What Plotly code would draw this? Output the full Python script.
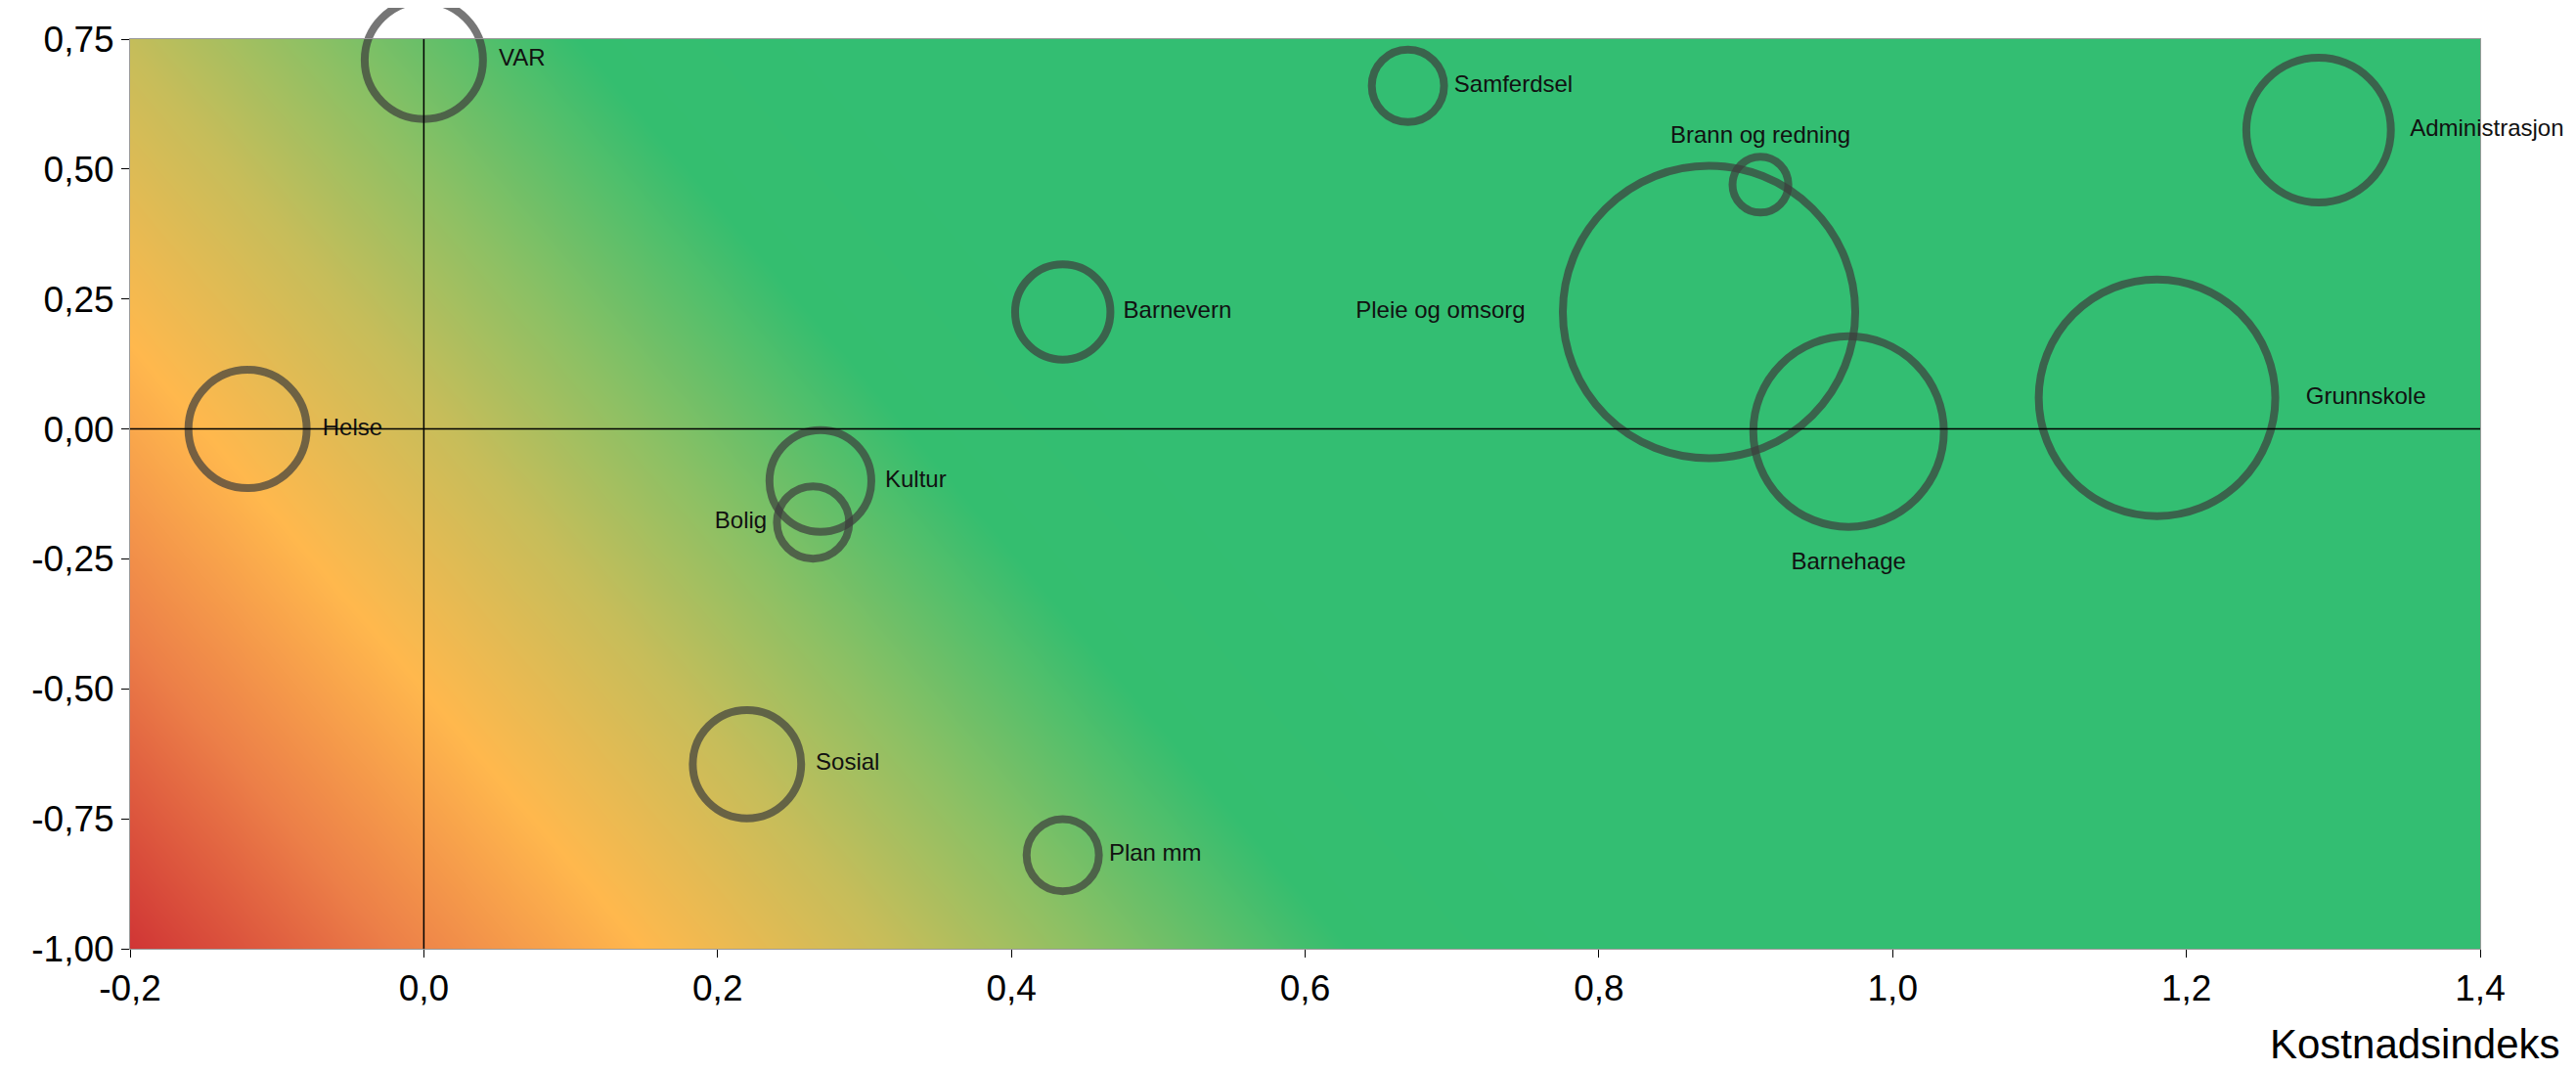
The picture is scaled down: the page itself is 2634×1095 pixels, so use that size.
import numpy as np
import plotly.graph_objects as go

# data
names = ["VAR", "Samferdsel", "Brann og redning", "Administrasjon", "Barnevern",
         "Pleie og omsorg", "Helse", "Grunnskole", "Barnehage", "Kultur",
         "Bolig", "Sosial", "Plan mm"]
kostnad = [0.0, 0.67, 0.91, 1.29, 0.435, 0.875, -0.12, 1.18, 0.97, 0.27, 0.265, 0.22, 0.435]
resultat = [0.71, 0.66, 0.47, 0.575, 0.225, 0.225, 0.0, 0.06, -0.005, -0.1, -0.18, -0.645, -0.82]
diameter = [72, 44, 34, 88, 58, 178, 72, 144, 116, 62, 44, 66, 44]
label_pos = ["middle right", "middle right", "top center", "middle right", "middle right",
             "middle left", "middle right", "middle right", "bottom center", "middle right",
             "middle left", "middle right", "middle right"]
x_ticks = [-0.2, 0.0, 0.2, 0.4, 0.6, 0.8, 1.0, 1.2, 1.4]
y_ticks = [-1.0, -0.75, -0.5, -0.25, 0.0, 0.25, 0.5, 0.75]

scale = 2634 / 1568

# background gradient
gx = np.linspace(-0.2, 1.4, 200)
gy = np.linspace(-1.0, 0.75, 120)
GX, GY = np.meshgrid(gx, gy)
Z = GX + 0.3 * GY
zmin, zmax = -0.5, 0.5
def st(v):
    return (v - zmin) / (zmax - zmin)
colors = [[0.0, "#d03535"], [st(-0.32), "#ec7f48"], [st(-0.15), "#ffb84d"],
          [st(0.02), "#c6bd5a"], [st(0.15), "#8cc064"], [st(0.33), "#34be6f"],
          [1.0, "#33be72"]]

fig = go.Figure()
fig.add_trace(go.Heatmap(x=gx, y=gy, z=Z, colorscale=colors, zmin=zmin, zmax=zmax,
                         zsmooth="best", showscale=False, hoverinfo="skip"))
fig.add_trace(go.Scatter(
    x=kostnad, y=resultat, mode="markers+text", text=names, textposition=label_pos,
    textfont=dict(family="Arial, Liberation Sans", size=24, color="#111"),
    marker=dict(size=[d * scale for d in diameter], sizemode="diameter",
                color="rgba(0,0,0,0)", line=dict(color="#3d3d3d", width=8)),
    cliponaxis=False, showlegend=False))

# axis lines through zero, drawn on top of the gradient
fig.add_shape(type="line", x0=0, x1=0, y0=-1.0, y1=0.75, line=dict(color="black", width=1.5))
fig.add_shape(type="line", x0=-0.2, x1=1.4, y0=0, y1=0, line=dict(color="black", width=1.5))

axis_common = dict(showgrid=False, zeroline=False,
                   ticks="outside", tickcolor="black", ticklen=8,
                   tickfont=dict(family="Arial, Liberation Sans", size=37, color="black"),
                   showline=True, linecolor="#999", mirror=True)
fig.update_xaxes(range=[-0.2, 1.4], tickvals=x_ticks,
                 ticktext=[f"{v:.1f}".replace(".", ",") for v in x_ticks], **axis_common)
fig.update_yaxes(range=[-1.0, 0.75], tickvals=y_ticks,
                 ticktext=[f"{v:.2f}".replace(".", ",") for v in y_ticks], **axis_common)

fig.add_annotation(text="Kostnadsindeks", xref="paper", yref="paper", x=1.035, y=-0.105,
                   xanchor="right", yanchor="middle", showarrow=False,
                   font=dict(family="Arial, Liberation Sans", size=42, color="black"))

fig.update_layout(width=2634, height=1095,
                  margin=dict(l=125, r=106, t=27, b=133),
                  plot_bgcolor="white", paper_bgcolor="white")

fig.write_html("out.html")
